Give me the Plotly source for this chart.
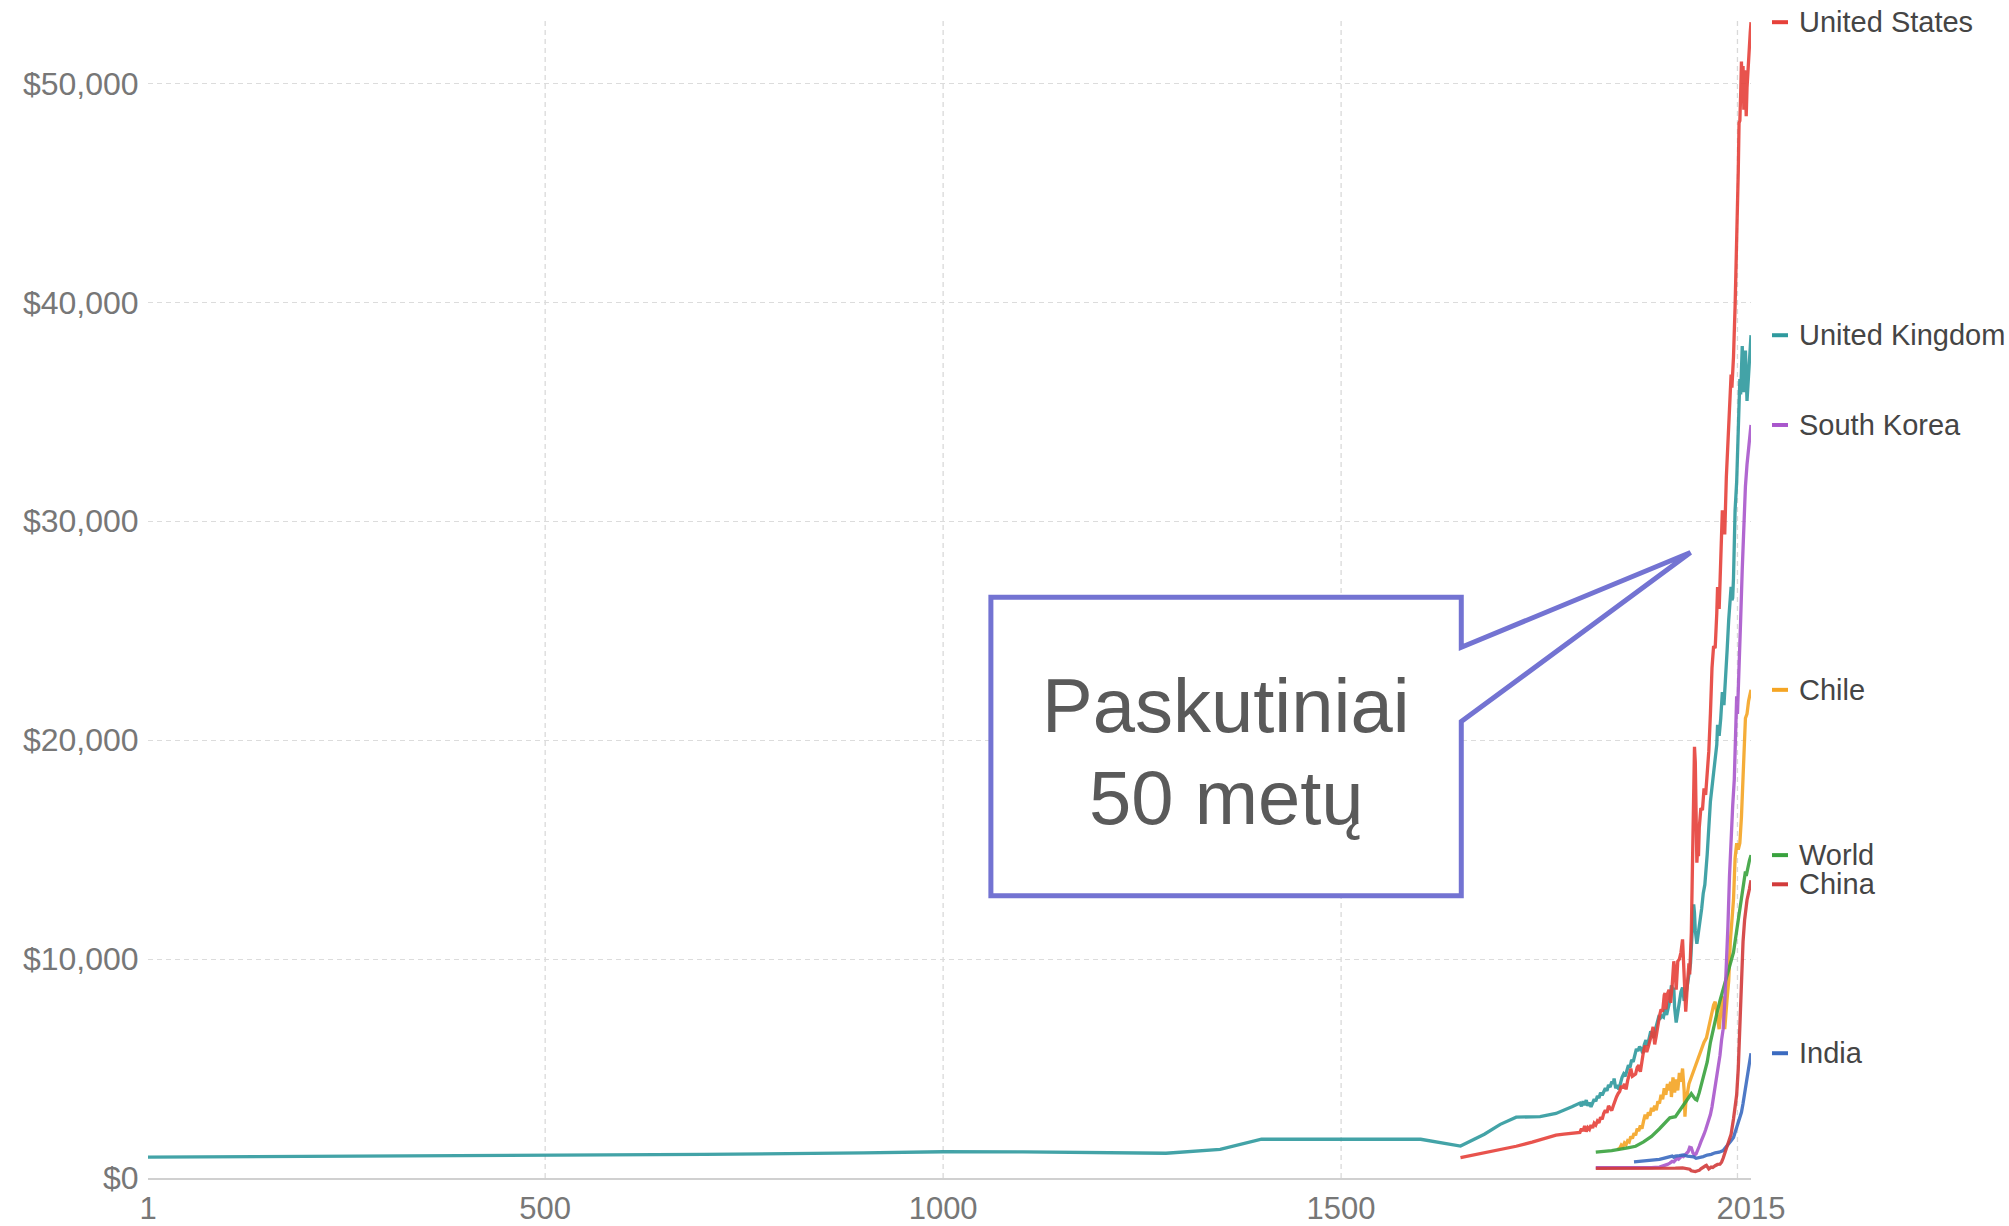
import plotly.graph_objects as go

# ---------------- data (GDP per capita) ----------------
uk_years = [1, 200, 400, 500, 700, 900, 1000, 1100, 1200, 1250, 1280, 1348, 1400, 1500, 1600, 1650,
            1680, 1700, 1720, 1750, 1770, 1790, 1800, 1802, 1804, 1806, 1808, 1810, 1812, 1814, 1816,
            1818, 1820, 1822, 1824, 1826, 1828, 1830, 1832, 1834, 1836, 1838, 1840, 1842, 1843, 1845,
            1847, 1849, 1851, 1853, 1855, 1857, 1859, 1861, 1863, 1865, 1867, 1869, 1871, 1873, 1875,
            1877, 1879, 1881, 1883, 1885, 1887, 1889, 1891, 1893, 1895, 1897, 1899, 1901, 1903, 1905,
            1907, 1909, 1911, 1913, 1915, 1917, 1918, 1919, 1921, 1923, 1925, 1927, 1929, 1931, 1933,
            1935, 1937, 1939, 1941, 1943, 1944, 1945, 1947, 1949, 1951, 1953, 1955, 1957, 1960, 1964,
            1968, 1972, 1973, 1975, 1977, 1979, 1981, 1983, 1985, 1987, 1989, 1990, 1991, 1992, 1993,
            1995, 1997, 1999, 2001, 2002, 2004, 2006, 2008, 2010, 2012, 2013, 2015]
uk_vals = [950, 980, 1000, 1020, 1080, 1150, 1200, 1190, 1150, 1130, 1130, 1310, 1770, 1770, 1770, 1460,
           2000, 2450, 2780, 2800, 2950, 3250, 3420, 3280, 3500, 3330, 3560, 3300, 3450, 3250, 3480,
           3600, 3500, 3750, 3650, 3900, 3780, 3950, 4100, 3980, 4250, 4150, 4400, 4300, 4550, 4100,
           4250, 4050, 4350, 4600, 4750, 4650, 4900, 5150, 5050, 5400, 5300, 5650, 5900, 5800, 6000,
           5900, 5700, 6100, 6300, 6050, 6400, 6700, 6550, 6400, 6800, 7100, 7350, 7300, 7400, 7350,
           7700, 7450, 7800, 8100, 8800, 8600, 8700, 7800, 7100, 7600, 8200, 8500, 8700, 8100, 8300,
           8900, 9500, 9800, 11200, 12500, 12100, 11300, 10700, 11200, 11900, 12300, 13000, 13400, 14800, 17200,
           18500, 19800, 20700, 20200, 21000, 22200, 21600, 22700, 24100, 25500, 26800, 27000, 26400, 26500, 27400,
           30500, 31800, 34500, 36500, 35800, 38000, 35900, 37800, 35500, 36500, 37200, 38500]

us_years = [1650, 1670, 1690, 1700, 1720, 1740, 1760, 1770, 1780, 1790, 1800, 1802, 1804, 1806, 1808, 1810,
            1812, 1814, 1816, 1818, 1820, 1822, 1824, 1826, 1828, 1830, 1832, 1834, 1836, 1838, 1840, 1842,
            1844, 1846, 1848, 1850, 1852, 1854, 1856, 1858, 1860, 1862, 1864, 1866, 1868, 1870, 1872, 1874,
            1876, 1878, 1880, 1882, 1884, 1886, 1888, 1890, 1892, 1894, 1896, 1898, 1900, 1902, 1904, 1906,
            1907, 1908, 1910, 1912, 1914, 1916, 1918, 1919, 1920, 1921, 1923, 1925, 1927, 1929, 1930, 1931,
            1932, 1933, 1935, 1937, 1938, 1939, 1940, 1941, 1942, 1943, 1944, 1945, 1946, 1947, 1948, 1949,
            1950, 1952, 1954, 1956, 1958, 1960, 1962, 1964, 1966, 1968, 1970, 1972, 1973, 1975, 1977, 1979,
            1980, 1982, 1984, 1986, 1988, 1990, 1991, 1993, 1995, 1997, 1999, 2000, 2001, 2002, 2003, 2004,
            2005, 2006, 2007, 2008, 2009, 2010, 2011, 2012, 2013, 2014, 2015]
us_vals = [930, 1080, 1230, 1300, 1450, 1640, 1850, 1960, 2000, 2050, 2080, 2250, 2150, 2380, 2120, 2300,
           2220, 2420, 2280, 2500, 2420, 2600, 2520, 2780, 2680, 2950, 3100, 2980, 3300, 3180, 3080, 3300,
           3550, 3700, 3850, 3950, 4200, 4100, 4300, 4050, 4450, 4700, 5000, 4650, 4700, 4750, 5050, 5150,
           4850, 5350, 5800, 6050, 5750, 6000, 6250, 6550, 6900, 6100, 6500, 7000, 7400, 7700, 7600, 8350,
           8450, 7700, 8400, 8600, 8000, 8800, 9900, 9600, 9300, 8600, 9900, 10000, 10300, 10900, 9800, 9000,
           7800, 7600, 8800, 9800, 9300, 10100, 11200, 13300, 15800, 18500, 19700, 19000, 15400, 14400, 15100, 14700,
           16000, 16900, 16800, 17800, 17500, 18300, 19500, 21200, 23300, 24300, 24200, 25800, 27000, 26000, 28500, 30500,
           30100, 29400, 32000, 33800, 35500, 36700, 36100, 37500, 39800, 42500, 46000, 48200, 48300, 49500, 51000, 49200,
           50800, 48800, 50600, 50000, 48500, 49800, 50600, 51200, 51800, 52300, 52800]

chile_years = [1847, 1850, 1852, 1854, 1856, 1858, 1860, 1862, 1864, 1866, 1868, 1870, 1872, 1874, 1876, 1878,
               1880, 1882, 1884, 1886, 1888, 1890, 1892, 1894, 1896, 1898, 1900, 1902, 1904, 1906, 1908, 1910,
               1912, 1914, 1915, 1917, 1919, 1921, 1923, 1925, 1927, 1929, 1931, 1932, 1933, 1935, 1937, 1939,
               1941, 1943, 1945, 1947, 1950, 1953, 1956, 1959, 1962, 1965, 1968, 1970, 1973, 1975, 1979, 1982,
               1985, 1987, 1989, 1991, 1993, 1995, 1997, 1999, 2001, 2003, 2005, 2006, 2008, 2010, 2012, 2015]
chile_vals = [1300, 1350, 1500, 1420, 1600, 1520, 1700, 1650, 1900, 1800, 2050, 1950, 2250, 2150, 2400, 2250,
              2600, 2900, 2700, 3000, 2850, 3200, 3050, 3300, 3100, 3500, 3400, 3800, 3600, 4100, 3800, 4300,
              4000, 4400, 3700, 4600, 3900, 4500, 4000, 4800, 4400, 5000, 4000, 2800, 3400, 4000, 4300, 4500,
              4700, 4900, 5100, 5400, 5600, 6000, 6200, 6400, 6900, 7400, 7900, 8050, 7200, 6800, 8300, 6800,
              8200, 9000, 10800, 11800, 12700, 14600, 15300, 15000, 15300, 16500, 18000, 19000, 21000, 21200, 21800, 22300]

world_years = [1820, 1840, 1860, 1870, 1880, 1890, 1900, 1910, 1913, 1920, 1929, 1935, 1938, 1940, 1945, 1947,
               1950, 1956, 1960, 1964, 1968, 1972, 1976, 1980, 1985, 1990, 1993, 1997, 2001, 2004, 2006, 2008,
               2009, 2011, 2013, 2015]
world_vals = [1180, 1250, 1380, 1450, 1650, 1900, 2250, 2600, 2750, 2800, 3300, 3600, 3800, 3850, 3600, 3560,
              3900, 4700, 5300, 6200, 6900, 7500, 8100, 8600, 9200, 9900, 10300, 11300, 12200, 12900, 13500, 14000,
              13800, 14200, 14500, 14750]

korea_years = [1820, 1840, 1860, 1880, 1890, 1900, 1905, 1910, 1913, 1916, 1918, 1920, 1922, 1924, 1926, 1928,
               1930, 1932, 1934, 1936, 1938, 1940, 1942, 1944, 1946, 1948, 1950, 1952, 1954, 1956, 1958, 1960,
               1962, 1964, 1966, 1968, 1970, 1972, 1974, 1976, 1978, 1980, 1982, 1984, 1986, 1988, 1990, 1992,
               1994, 1996, 1997, 1998, 2000, 2002, 2004, 2006, 2008, 2010, 2012, 2015]
korea_vals = [470, 470, 470, 460, 470, 500, 550, 620, 680, 760, 740, 820, 900, 860, 950, 1000,
              980, 1050, 1150, 1200, 1400, 1380, 1150, 1050, 1100, 1250, 1450, 1650, 1800, 2000, 2200, 2400,
              2650, 2900, 3250, 3700, 4100, 4500, 5100, 5600, 6300, 6800, 8000, 9600, 11500, 13800, 15800, 17000,
              18200, 20500, 22000, 21200, 24000, 25500, 27800, 29800, 31600, 32600, 33400, 34400]

india_years = [1868, 1875, 1880, 1885, 1890, 1895, 1900, 1905, 1910, 1913, 1916, 1918, 1920, 1925, 1930, 1935,
               1940, 1943, 1946, 1950, 1955, 1960, 1965, 1970, 1975, 1980, 1985, 1990, 1993, 1996, 1999, 2001,
               2003, 2005, 2007, 2009, 2011, 2013, 2015]
india_vals = [740, 760, 780, 800, 830, 810, 850, 900, 950, 980, 1000, 950, 1000, 1020, 1050, 1000,
              1000, 970, 900, 920, 980, 1050, 1080, 1150, 1180, 1250, 1450, 1700, 1850, 2200, 2500, 2700,
              3000, 3400, 3900, 4300, 4800, 5200, 5700]

china_years = [1820, 1830, 1850, 1870, 1890, 1900, 1913, 1920, 1929, 1933, 1936, 1938, 1940, 1942, 1945, 1948,
               1950, 1952, 1955, 1958, 1959, 1961, 1962, 1965, 1967, 1970, 1973, 1976, 1978, 1980, 1985, 1990,
               1993, 1995, 1997, 1999, 2001, 2003, 2005, 2007, 2010, 2013, 2015]
china_vals = [440, 440, 430, 420, 430, 430, 450, 450, 460, 450, 430, 400, 330, 300, 290, 330,
              350, 420, 470, 560, 580, 450, 420, 500, 480, 560, 620, 630, 720, 900, 1400, 2000,
              2700, 3200, 3800, 5000, 7000, 9000, 10800, 11800, 12700, 13200, 13600]

series_names = ["United Kingdom", "United States", "Chile", "World", "South Korea", "India", "China"]
series_x = [uk_years, us_years, chile_years, world_years, korea_years, india_years, china_years]
series_y = [uk_vals, us_vals, chile_vals, world_vals, korea_vals, india_vals, china_vals]
series_colors = ["#2f9a9e", "#e6413a", "#f5a524", "#39a23e", "#a957cc", "#3b6bc0", "#d23b3b"]
label_yshift = {"China": -4}

y_tick_vals = [0, 10000, 20000, 30000, 40000, 50000]
y_tick_text = ["$0", "$10,000", "$20,000", "$30,000", "$40,000", "$50,000"]
x_tick_vals = [1, 500, 1000, 1500, 2015]
x_tick_text = ["1", "500", "1000", "1500", "2015"]
x_grid_vals = [500, 1000, 1500, 1998]

callout_lines = ["Paskutiniai", "50 metų"]

FONT = "Liberation Sans, Arial, sans-serif"
Y_MAX = 52900
X_MAX = 2015

fig = go.Figure()

for name, xs, ys, col in zip(series_names, series_x, series_y, series_colors):
    fig.add_trace(go.Scatter(x=xs, y=ys, mode="lines", name=name,
                             line=dict(color=col, width=3.3), opacity=0.9,
                             cliponaxis=False, showlegend=False, hoverinfo="skip"))

shapes = []
annotations = []

# vertical dashed gridlines
for gx in x_grid_vals:
    shapes.append(dict(type="line", xref="x", yref="paper", x0=gx, x1=gx, y0=0, y1=1,
                       line=dict(color="#d9d9d9", width=1.3, dash="5px,4px"), layer="below"))

# end-of-line labels (dash + name), placed beyond the right edge of the plot
for name, xs, ys, col in zip(series_names, series_x, series_y, series_colors):
    sh = label_yshift.get(name, 0)
    yp = ys[-1] / Y_MAX
    shapes.append(dict(type="line", xref="paper", yref="paper", xsizemode="pixel", ysizemode="pixel",
                       xanchor=1, yanchor=yp, x0=21, x1=37, y0=sh, y1=sh,
                       line=dict(color=col, width=4)))
    annotations.append(dict(x=1, y=yp, xref="paper", yref="paper", text=name, showarrow=False,
                            xanchor="left", yanchor="middle", xshift=46, yshift=sh,
                            font=dict(family=FONT, size=29, color="#454545")))

# callout box with pointer (positioned in data coordinates)
bx0, bx1 = 1060, 1651
by0, by1 = 12895, 26525
p_up, p_lo = 24242, 20850
tip_x, tip_y = 1939, 28575
path = (f"M {bx0},{by1} L {bx1},{by1} L {bx1},{p_up} L {tip_x},{tip_y} L {bx1},{p_lo} "
        f"L {bx1},{by0} L {bx0},{by0} Z")
shapes.append(dict(type="path", xref="x", yref="y", path=path, fillcolor="white",
                   line=dict(color="#7373d2", width=5), layer="above"))
text_x = 1356
text_y = [21600, 17400]
for t, ty in zip(callout_lines, text_y):
    annotations.append(dict(x=text_x, y=ty, xref="x", yref="y", text=t, showarrow=False,
                            xanchor="center", yanchor="middle",
                            font=dict(family=FONT, size=76, color="#5a5a5a")))

fig.update_layout(
    width=2009, height=1226,
    margin=dict(l=148, r=258, t=20, b=48, autoexpand=False),
    paper_bgcolor="white", plot_bgcolor="white",
    shapes=shapes, annotations=annotations,
    xaxis=dict(range=[1, X_MAX], tickvals=x_tick_vals, ticktext=x_tick_text, automargin=False,
               showgrid=False, zeroline=False, showline=True, linecolor="#d0d0d0", linewidth=2,
               ticks="outside", ticklen=2, tickcolor="rgba(0,0,0,0)",
               tickfont=dict(family=FONT, size=31, color="#777777")),
    yaxis=dict(range=[0, Y_MAX], tickvals=y_tick_vals, ticktext=y_tick_text, automargin=False,
               showgrid=True, gridcolor="#dcdcdc", griddash="5px,4px", gridwidth=1.3,
               zeroline=False, showline=False,
               ticks="outside", ticklen=2, tickcolor="rgba(0,0,0,0)",
               tickfont=dict(family=FONT, size=32, color="#777777")),
)

fig.write_html("out.html", config={"displayModeBar": False},
               post_script="document.body.style.margin='0';document.body.style.overflow='hidden';")
